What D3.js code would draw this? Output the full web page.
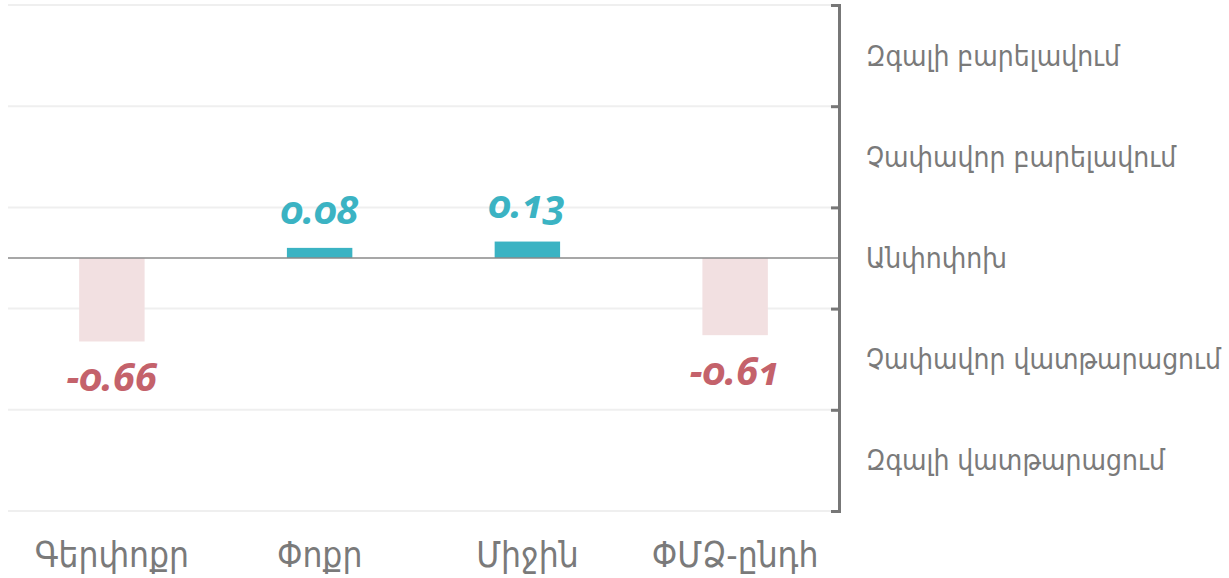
<!DOCTYPE html>
<html>
<head>
<meta charset="utf-8">
<script src="https://cdn.jsdelivr.net/npm/d3@7"></script>
<style>
  html, body { margin: 0; padding: 0; background: #fff; }
  svg { display: block; }
</style>
</head>
<body>
<svg id="chart" width="1229" height="578"></svg>
<script>
const categories = ["Գերփոքր", "Փոքր", "Միջին", "ՓՄՁ-ընդհ"];
const values = [-0.66, 0.08, 0.13, -0.61];
const valueLabels = ["-0.66", "0.08", "0.13", "-0.61"];
const tickValues = [-2, -1.2, -0.4, 0.4, 1.2, 2];
const levelPositions = [1.6, 0.8, 0, -0.8, -1.6];
const levelLabels = ["Զգալի բարելավում", "Չափավոր բարելավում", "Անփոփոխ", "Չափավոր վատթարացում", "Զգալի վատթարացում"];

(function () {
const svg = d3.select("#chart");
const pLeft = 8, pRight = 839, pTop = 5, pBottom = 511;

const x = d3.scaleBand().domain(categories).range([pLeft, pRight]).padding(0);
const y = d3.scaleLinear().domain([-2, 2]).range([pBottom, pTop]);
const barW = x.bandwidth() * 0.315;

// gridlines
svg.append("g").selectAll("line").data(tickValues).join("line")
  .attr("x1", pLeft).attr("x2", pRight)
  .attr("y1", d => y(d)).attr("y2", d => y(d))
  .attr("stroke", "#efefef").attr("stroke-width", 2);

// bars
svg.append("g").selectAll("rect").data(values).join("rect")
  .attr("x", (d, i) => x(categories[i]) + x.bandwidth() / 2 - barW / 2)
  .attr("width", barW)
  .attr("y", d => y(Math.max(0, d)))
  .attr("height", d => Math.abs(y(d) - y(0)))
  .attr("fill", d => d >= 0 ? "#3bb3c3" : "#f2e0e1");

// zero line
svg.append("line")
  .attr("x1", pLeft).attr("x2", pRight)
  .attr("y1", y(0)).attr("y2", y(0))
  .attr("stroke", "#8a8a8a").attr("stroke-width", 1.5);

// right axis
const axis = d3.axisLeft(y).tickValues(tickValues).tickSize(8).tickSizeOuter(8).tickFormat("");
const ag = svg.append("g").attr("transform", `translate(${pRight},0)`).call(axis);
ag.selectAll("path, line").attr("stroke", "#777").attr("stroke-width", 3);

// level labels
svg.append("g").selectAll("text").data(levelPositions).join("text")
  .attr("x", 866).attr("y", d => y(d))
  .attr("dy", "0.36em")
  .attr("font-family", "'DejaVu Sans Condensed', 'DejaVu Sans', sans-serif")
  .attr("font-size", 28)
  .attr("fill", "#7a7a7a")
  .text((d, i) => levelLabels[i]);

// category labels
svg.append("g").selectAll("text").data(categories).join("text")
  .attr("x", d => x(d) + x.bandwidth() / 2)
  .attr("y", 567)
  .attr("text-anchor", "middle")
  .attr("font-family", "'DejaVu Sans Condensed', 'DejaVu Sans', sans-serif")
  .attr("font-size", 35)
  .attr("fill", "#7a7a7a")
  .text(d => d);

// value labels
svg.append("g").selectAll("text").data(values).join("text")
  .attr("x", (d, i) => x(categories[i]) + x.bandwidth() / 2)
  .attr("y", d => d >= 0 ? y(d) - 24 : y(d) + 50)
  .attr("text-anchor", "middle")
  .attr("font-family", "'Noto Sans', 'Open Sans', sans-serif")
  .attr("font-weight", "bold")
  .attr("font-style", "italic")
  .style("font-variant-numeric", "oldstyle-nums")
  .attr("font-size", 40)
  .attr("fill", d => d >= 0 ? "#3bb3c3" : "#c4626b")
  .text((d, i) => valueLabels[i]);
})();
</script>
</body>
</html>
